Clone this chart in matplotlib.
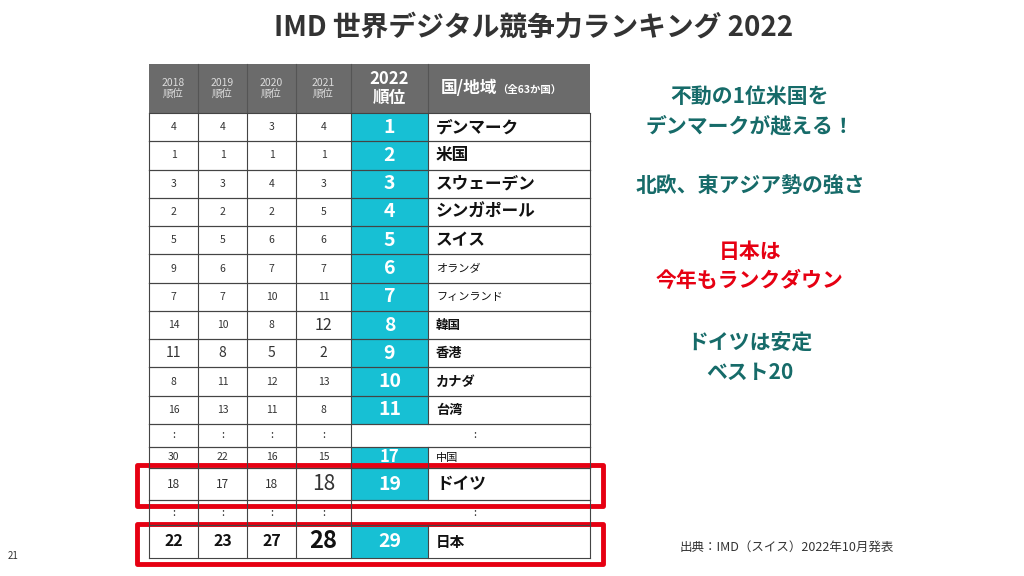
import matplotlib
matplotlib.use("Agg")
import matplotlib.pyplot as plt
from matplotlib.patches import Rectangle

plt.rcParams['font.family'] = ['Noto Sans CJK JP', 'DejaVu Sans']

# ---------------- data ----------------
years_prev = ['2018', '2019', '2020', '2021']
countries = ['デンマーク', '米国', 'スウェーデン', 'シンガポール', 'スイス', 'オランダ',
             'フィンランド', '韓国', '香港', 'カナダ', '台湾', '中国', 'ドイツ', '日本']
rank_2022 = [1, 2, 3, 4, 5, 6, 7, 8, 9, 10, 11, 17, 19, 29]
rank_2018 = [4, 1, 3, 2, 5, 9, 7, 14, 11, 8, 16, 30, 18, 22]
rank_2019 = [4, 1, 3, 2, 5, 6, 7, 10, 8, 11, 13, 22, 17, 23]
rank_2020 = [3, 1, 4, 2, 6, 7, 10, 8, 5, 12, 11, 16, 18, 27]
rank_2021 = [4, 1, 3, 5, 6, 7, 11, 12, 2, 13, 8, 15, 18, 28]
prev_ranks = [rank_2018, rank_2019, rank_2020, rank_2021]

title = 'IMD 世界デジタル競争力ランキング 2022'
comments = [('不動の1位米国を\nデンマークが越える！', 'teal'),
            ('北欧、東アジア勢の強さ', 'teal'),
            ('日本は\n今年もランクダウン', 'red'),
            ('ドイツは安定\nベスト20', 'teal')]
source = '出典：IMD（スイス）2022年10月発表'
page_no = '21'

# ---------------- layout ----------------
W, H = 1024, 576
fig = plt.figure(figsize=(W / 100, H / 100), dpi=100)
ax = fig.add_axes([0, 0, 1, 1])
ax.set_xlim(0, W)
ax.set_ylim(H, 0)
ax.axis('off')

col_x = [149, 198, 247, 296, 351, 428, 590]
header = (64, 113)
row_h = (424 - 113) / 11
spans = [(113 + i * row_h, 113 + (i + 1) * row_h) for i in range(11)]
spans += [(447, 468), (468, 500), (525, 558)]
dot_spans = [(424, 447), (500, 525)]

CYAN = '#17c0d4'
GRID = '#444444'
TEAL = '#166b69'
RED = '#e60012'
HDR = '#6b6b6b'

# header
ax.add_patch(Rectangle((col_x[0], header[0]), col_x[-1] - col_x[0], header[1] - header[0],
                       facecolor=HDR, edgecolor='none'))
hy = (header[0] + header[1]) / 2
for i, y in enumerate(years_prev):
    cx = (col_x[i] + col_x[i + 1]) / 2
    ax.text(cx, hy, f'{y}\n順位', ha='center', va='center', color='#dcdcdc',
            fontsize=7.5, linespacing=1.0)
ax.text((col_x[4] + col_x[5]) / 2, hy, '2022\n順位', ha='center', va='center',
        color='white', fontsize=12, fontweight='bold', linespacing=1.0)
ax.text(441, hy, '国/地域', ha='left', va='center', color='white', fontsize=12,
        fontweight='bold')
ax.text(497, hy + 1, '（全63か国）', ha='left', va='center', color='white', fontsize=7.5,
        fontweight='bold')
for x in col_x[1:-1]:
    ax.plot([x, x], header, color='#555555', lw=0.8)

# body rows
name_sizes = [12, 12, 12, 12, 12, 8, 8, 9, 9.5, 9.5, 9.5, 8, 12, 10.5]
for k, (y0, y1) in enumerate(spans):
    cy = (y0 + y1) / 2
    ax.add_patch(Rectangle((col_x[4], y0), col_x[5] - col_x[4], y1 - y0,
                           facecolor=CYAN, edgecolor='none'))
    for j, ranks in enumerate(prev_ranks):
        cx = (col_x[j] + col_x[j + 1]) / 2
        fs, fw, c = 7.5, 'normal', '#333333'
        if k == 8:
            fs = 10
        if k == 7 and j == 3:
            fs = 11.5
        if k == 12:
            fs = 8.5
            if j == 3:
                fs = 15
        if k == 13:
            fs, fw, c = 11.5, 'bold', '#111111'
            if j == 3:
                fs = 17
        ax.text(cx, cy, str(ranks[k]), ha='center', va='center', fontsize=fs,
                fontweight=fw, color=c)
    ax.text((col_x[4] + col_x[5]) / 2, cy, str(rank_2022[k]), ha='center', va='center',
            color='white', fontsize=14 if k != 11 else 12, fontweight='bold')
    ax.text(436, cy, countries[k], ha='left', va='center', color='#111111',
            fontsize=name_sizes[k], fontweight='bold' if name_sizes[k] >= 9 else 'normal')
    for x in col_x:
        ax.plot([x, x], [y0, y1], color=GRID, lw=0.8)
    for yy in (y0, y1):
        ax.plot([col_x[0], col_x[-1]], [yy, yy], color=GRID, lw=0.8)

# ellipsis rows
for (y0, y1) in dot_spans:
    cy = (y0 + y1) / 2
    for j in range(4):
        cx = (col_x[j] + col_x[j + 1]) / 2
        ax.text(cx, cy, ':', ha='center', va='center', fontsize=8, color='#333333')
    ax.text(475, cy, ':', ha='center', va='center', fontsize=8, color='#333333')
    for x in col_x[:5] + [col_x[-1]]:
        ax.plot([x, x], [y0, y1], color=GRID, lw=0.8)
    for yy in (y0, y1):
        ax.plot([col_x[0], col_x[-1]], [yy, yy], color=GRID, lw=0.8)

# red highlight boxes
for (y0, y1) in [(465, 506), (524, 564)]:
    ax.add_patch(Rectangle((137, y0), 603 - 137, y1 - y0, facecolor='none',
                           edgecolor=RED, lw=3.5, joinstyle='round'))

# title
ax.text(534, 28, title, ha='center', va='center', fontsize=20, fontweight='bold',
        color='#333333')

# comments
comment_y = [111, 185, 266, 358]
for (txt, kind), y in zip(comments, comment_y):
    ax.text(750, y, txt, ha='center', va='center', fontsize=15, fontweight='bold',
            color=TEAL if kind == 'teal' else RED, linespacing=1.5)

ax.text(680, 547, source, ha='left', va='center', fontsize=9, color='#333333')
ax.text(8, 556, page_no, ha='left', va='center', fontsize=7, color='#333333')

fig.savefig('out.png', dpi=100, facecolor='white')
